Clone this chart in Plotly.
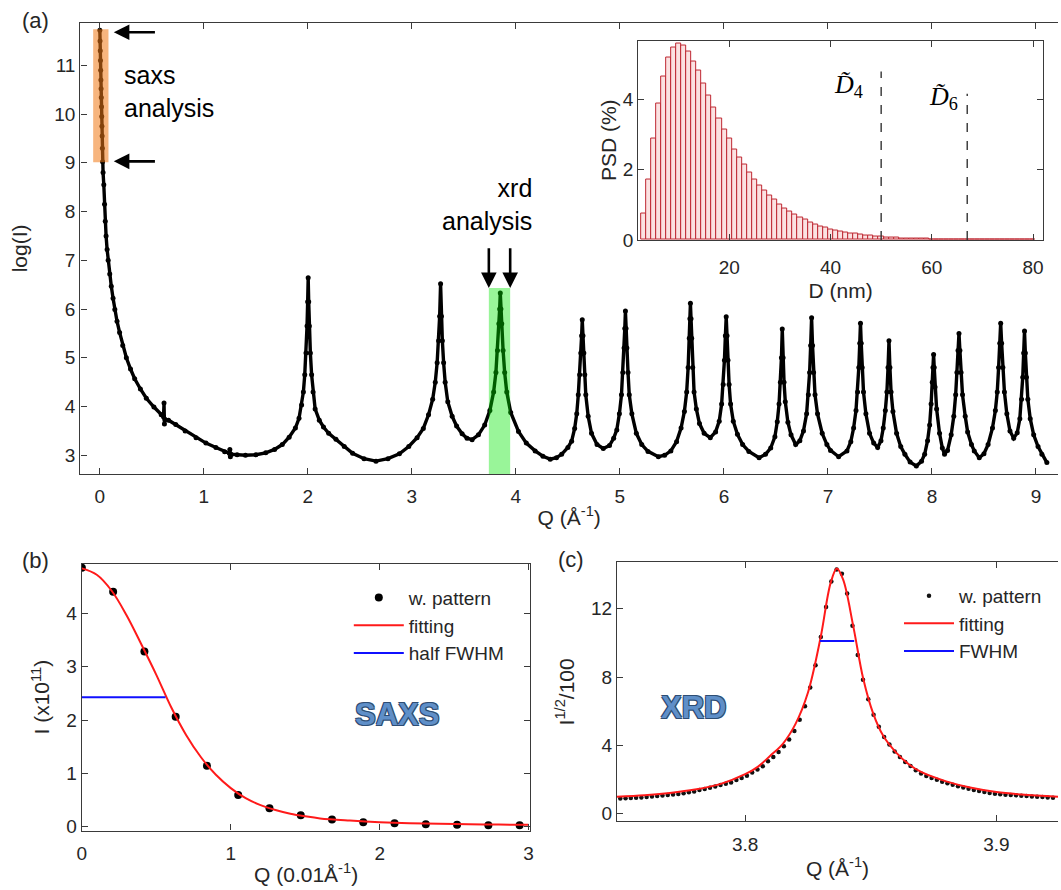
import plotly.graph_objects as go

FONT = "Liberation Sans, Arial, sans-serif"
TXT = "#262626"
AX = "#3a3a3a"

# ---------------- panel (a): full pattern, log(I) vs Q ----------------
q_a = [0.000, 0.002, 0.004, 0.006, 0.008, 0.010, 0.012, 0.014, 0.016, 0.018, 0.020, 0.022, 0.024, 0.026,
       0.031, 0.038, 0.045, 0.052, 0.060, 0.070, 0.080, 0.095, 0.110, 0.127, 0.144, 0.165, 0.190, 0.220,
       0.255, 0.295, 0.335, 0.390, 0.447, 0.520, 0.590, 0.612, 0.617, 0.621, 0.626, 0.660, 0.730, 0.820,
       0.925, 1.020, 1.116, 1.200, 1.245, 1.250, 1.255, 1.262, 1.320, 1.400, 1.500, 1.595, 1.680, 1.754,
       1.820, 1.880, 1.915, 1.940, 1.957, 1.970, 1.982, 1.992, 1.998, 2.003, 2.008, 2.014, 2.024, 2.036,
       2.050, 2.070, 2.110, 2.150, 2.200, 2.270, 2.350, 2.430, 2.540, 2.655, 2.770, 2.880, 2.970, 3.050,
       3.110, 3.160, 3.200, 3.225, 3.243, 3.257, 3.267, 3.276, 3.284, 3.293, 3.305, 3.320, 3.345, 3.387,
       3.430, 3.483, 3.530, 3.579, 3.640, 3.700, 3.750, 3.786, 3.808, 3.823, 3.836, 3.844, 3.850, 3.856,
       3.864, 3.877, 3.892, 3.912, 3.950, 4.025, 4.100, 4.185, 4.260, 4.330, 4.390, 4.440, 4.500, 4.536,
       4.565, 4.585, 4.600, 4.613, 4.624, 4.632, 4.638, 4.645, 4.653, 4.662, 4.672, 4.695, 4.727, 4.780,
       4.840, 4.900, 4.940, 4.970, 4.995, 5.015, 5.028, 5.040, 5.047, 5.053, 5.059, 5.067, 5.078, 5.090,
       5.115, 5.158, 5.210, 5.270, 5.370, 5.430, 5.490, 5.545, 5.588, 5.620, 5.642, 5.656, 5.667, 5.673,
       5.678, 5.684, 5.690, 5.700, 5.713, 5.735, 5.765, 5.810, 5.869, 5.920, 5.955, 5.978, 5.993, 6.005,
       6.014, 6.022, 6.030, 6.039, 6.050, 6.064, 6.090, 6.130, 6.180, 6.240, 6.338, 6.400, 6.450, 6.490,
       6.513, 6.530, 6.543, 6.553, 6.561, 6.569, 6.578, 6.590, 6.615, 6.645, 6.690, 6.730, 6.765, 6.795,
       6.812, 6.824, 6.834, 6.843, 6.852, 6.862, 6.876, 6.900, 6.945, 6.990, 7.025, 7.103, 7.183, 7.220,
       7.247, 7.270, 7.285, 7.297, 7.306, 7.313, 7.320, 7.329, 7.342, 7.365, 7.400, 7.440, 7.478, 7.510,
       7.532, 7.552, 7.567, 7.578, 7.587, 7.596, 7.607, 7.625, 7.660, 7.700, 7.740, 7.790, 7.850, 7.900,
       7.930, 7.958, 7.978, 7.992, 8.003, 8.010, 8.016, 8.022, 8.030, 8.045, 8.073, 8.100, 8.121, 8.150,
       8.185, 8.210, 8.228, 8.240, 8.251, 8.260, 8.269, 8.280, 8.294, 8.320, 8.343, 8.380, 8.407, 8.455,
       8.500, 8.540, 8.582, 8.610, 8.628, 8.641, 8.652, 8.661, 8.670, 8.682, 8.697, 8.720, 8.750, 8.786,
       8.820, 8.845, 8.862, 8.873, 8.882, 8.890, 8.898, 8.908, 8.922, 8.945, 8.978, 9.020, 9.057, 9.105]
logi_a = [11.72, 11.50, 11.30, 11.10, 10.90, 10.70, 10.52, 10.34, 10.15, 9.95, 9.75, 9.55, 9.30, 9.02,
          8.80, 8.55, 8.15, 7.80, 7.50, 7.22, 7.00, 6.72, 6.47, 6.22, 5.99, 5.75, 5.52, 5.25,
          5.00, 4.77, 4.57, 4.36, 4.17, 3.99, 3.83, 3.79, 4.07, 3.64, 3.74, 3.72, 3.63, 3.50,
          3.36, 3.25, 3.16, 3.07, 3.04, 3.12, 2.97, 3.02, 3.01, 3.00, 3.01, 3.05, 3.12, 3.22,
          3.37, 3.56, 3.76, 4.03, 4.30, 4.65, 5.10, 5.65, 6.15, 6.64, 6.15, 5.65, 5.10, 4.65,
          4.30, 3.95, 3.72, 3.58, 3.45, 3.33, 3.18, 3.04, 2.93, 2.88, 2.93, 3.03, 3.18, 3.36,
          3.55, 3.83, 4.15, 4.50, 4.90, 5.35, 5.85, 6.52, 5.85, 5.35, 4.90, 4.50, 4.10, 3.80,
          3.60, 3.44, 3.35, 3.32, 3.42, 3.62, 3.92, 4.30, 4.70, 5.15, 5.70, 6.00, 6.33, 6.00,
          5.70, 5.15, 4.70, 4.30, 3.88, 3.49, 3.25, 3.09, 2.98, 2.92, 2.95, 3.02, 3.16, 3.29,
          3.55, 3.85, 4.24, 4.65, 5.10, 5.45, 5.78, 5.45, 5.10, 4.65, 4.24, 3.80, 3.45, 3.22,
          3.14, 3.20, 3.35, 3.52, 3.85, 4.24, 4.70, 5.20, 5.60, 5.96, 5.60, 5.20, 4.70, 4.24,
          3.85, 3.45, 3.22, 3.08, 2.97, 3.00, 3.09, 3.28, 3.56, 3.90, 4.30, 4.80, 5.40, 5.80,
          6.12, 5.80, 5.40, 4.80, 4.30, 3.95, 3.65, 3.45, 3.36, 3.48, 3.70, 4.05, 4.45, 4.95,
          5.45, 5.84, 5.45, 4.95, 4.45, 4.05, 3.70, 3.43, 3.22, 3.08, 2.95, 3.02, 3.15, 3.38,
          3.69, 4.05, 4.50, 5.00, 5.59, 5.00, 4.50, 4.10, 3.68, 3.42, 3.22, 3.30, 3.50, 3.85,
          4.24, 4.70, 5.25, 5.82, 5.25, 4.70, 4.24, 3.85, 3.45, 3.22, 3.10, 2.97, 3.09, 3.28,
          3.56, 3.92, 4.30, 4.80, 5.30, 5.71, 5.30, 4.80, 4.30, 3.85, 3.45, 3.25, 3.16, 3.30,
          3.56, 3.92, 4.30, 4.80, 5.35, 4.80, 4.30, 3.90, 3.45, 3.18, 3.02, 2.86, 2.78, 2.88,
          3.02, 3.30, 3.62, 4.05, 4.50, 4.80, 5.07, 4.80, 4.40, 3.95, 3.45, 3.15, 3.02, 3.10,
          3.42, 3.80, 4.24, 4.70, 5.15, 5.50, 5.15, 4.70, 4.24, 3.80, 3.48, 3.22, 3.09, 2.95,
          3.03, 3.22, 3.56, 3.92, 4.30, 4.80, 5.30, 5.71, 5.30, 4.80, 4.30, 3.85, 3.50, 3.35,
          3.46, 3.75, 4.15, 4.60, 5.10, 5.55, 5.10, 4.60, 4.15, 3.75, 3.42, 3.18, 3.02, 2.85]

saxs_band_q = [-0.064, 0.083]
saxs_band_logi = [9.01, 11.74]
xrd_band_q = [3.74, 3.945]
xrd_band_top = 6.43
saxs_arrow_y = [11.68, 9.03]
saxs_arrow_q = [0.544, 0.134]          # tail, head
xrd_arrow_q = [3.74, 3.945]
xrd_arrow_logi = [7.28, 6.43]          # tail, head

# ---------------- inset: particle size distribution ----------------
d_nm = list(range(3, 81))
psd = [0.74, 1.72, 2.88, 3.86, 4.64, 5.17, 5.45, 5.57, 5.52, 5.36, 5.06, 4.80, 4.43, 4.10, 3.75, 3.46,
       3.14, 2.87, 2.58, 2.34, 2.14, 1.90, 1.72, 1.55, 1.41, 1.25, 1.14, 1.02, 0.90, 0.81, 0.72, 0.64,
       0.58, 0.50, 0.45, 0.39, 0.34, 0.31, 0.27, 0.24, 0.21, 0.19, 0.17, 0.15, 0.13, 0.115, 0.10, 0.09,
       0.08, 0.07, 0.062, 0.055, 0.048, 0.042, 0.037, 0.033, 0.029, 0.025, 0.022, 0.019, 0.017, 0.015,
       0.013, 0.011, 0.010, 0.009, 0.008, 0.007, 0.006, 0.005, 0.0045, 0.004, 0.0035, 0.003, 0.0025,
       0.002, 0.002, 0.0015]
d4_pos, d4_top = 50, 4.78
d6_pos, d6_top = 67, 4.15

# ---------------- panel (b): SAXS ----------------
q_b = [0.00, 0.21, 0.42, 0.63, 0.84, 1.05, 1.26, 1.47, 1.68, 1.89, 2.10, 2.31, 2.52, 2.73, 2.94]
i_b = [4.86, 4.41, 3.29, 2.06, 1.14, 0.59, 0.34, 0.21, 0.13, 0.08, 0.06, 0.04, 0.03, 0.02, 0.02]
q_b_fit = [0.0, 0.1, 0.2, 0.3, 0.4, 0.5, 0.6, 0.7, 0.8, 0.9, 1.0, 1.1, 1.2, 1.3, 1.4, 1.5, 1.6,
           1.8, 2.0, 2.2, 2.4, 2.6, 2.8, 3.0]
i_b_fit = [4.85, 4.73, 4.43, 3.97, 3.42, 2.85, 2.24, 1.72, 1.30, 0.97, 0.72, 0.53, 0.40, 0.31,
           0.24, 0.19, 0.15, 0.11, 0.08, 0.06, 0.05, 0.04, 0.035, 0.03]
q_b_half = [0.0, 0.562]
i_b_half = [2.43, 2.43]

# ---------------- panel (c): XRD ----------------
q_c = [3.7503, 3.7524, 3.7545, 3.7566, 3.7587, 3.7608, 3.7629, 3.7650, 3.7671, 3.7692, 3.7713, 3.7734,
       3.7755, 3.7776, 3.7797, 3.7818, 3.7839, 3.7860, 3.7881, 3.7902, 3.7923, 3.7944, 3.7965, 3.7986,
       3.8007, 3.8028, 3.8049, 3.8070, 3.8091, 3.8112, 3.8133, 3.8154, 3.8175, 3.8196, 3.8217, 3.8238,
       3.8259, 3.8280, 3.8301, 3.8322, 3.8343, 3.8364, 3.8385, 3.8406, 3.8427, 3.8448, 3.8469, 3.8490,
       3.8511, 3.8532, 3.8553, 3.8574, 3.8595, 3.8616, 3.8637, 3.8658, 3.8679, 3.8700, 3.8721, 3.8742,
       3.8763, 3.8784, 3.8805, 3.8826, 3.8847, 3.8868, 3.8889, 3.8910, 3.8931, 3.8952, 3.8973, 3.8994,
       3.9015, 3.9036, 3.9057, 3.9078, 3.9099, 3.9120, 3.9141, 3.9162, 3.9183, 3.9204, 3.9225]
v_c = [0.89, 0.91, 0.92, 0.94, 0.96, 0.98, 1.01, 1.04, 1.07, 1.10, 1.13, 1.16,
       1.21, 1.26, 1.31, 1.39, 1.46, 1.53, 1.60, 1.68, 1.76, 1.84, 1.98, 2.10,
       2.23, 2.42, 2.60, 2.78, 3.08, 3.33, 3.62, 3.95, 4.35, 4.85, 5.50, 6.30,
       7.40, 8.70, 10.35, 12.10, 13.60, 14.30, 14.05, 12.90, 11.00, 9.30, 7.85, 6.70,
       5.80, 5.10, 4.50, 4.05, 3.65, 3.32, 3.03, 2.80, 2.55, 2.36, 2.22, 2.10,
       1.99, 1.88, 1.79, 1.70, 1.62, 1.54, 1.47, 1.40, 1.34, 1.28, 1.22, 1.17,
       1.14, 1.12, 1.10, 1.08, 1.06, 1.04, 1.02, 1.00, 0.98, 0.96, 0.94]
q_c_fit = [3.749, 3.760, 3.770, 3.780, 3.790, 3.800, 3.805, 3.810, 3.815, 3.820, 3.825, 3.830,
           3.834, 3.8365, 3.839, 3.843, 3.847, 3.851, 3.855, 3.860, 3.865, 3.870, 3.880, 3.890,
           3.900, 3.910, 3.9245]
v_c_fit = [1.00, 1.08, 1.22, 1.42, 1.74, 2.32, 2.75, 3.40, 4.10, 5.25, 7.10, 10.30,
           13.50, 14.35, 13.70, 11.00, 7.90, 5.85, 4.55, 3.60, 2.92, 2.45, 1.90, 1.52,
           1.27, 1.13, 1.00]
q_c_fwhm = [3.8298, 3.8434]
v_c_fwhm = [10.12, 10.12]

fig = go.Figure()

# panel (a)
fig.add_trace(go.Scatter(x=q_a, y=logi_a, mode="lines+markers", xaxis="x", yaxis="y",
                         line=dict(color="black", width=3.4), marker=dict(color="black", size=5),
                         showlegend=False, hoverinfo="skip"))
# inset
fig.add_trace(go.Bar(x=d_nm, y=psd, width=1.0, xaxis="x2", yaxis="y2",
                     marker=dict(color="rgb(251,226,226)", line=dict(color="rgb(190,40,50)", width=1)),
                     showlegend=False, hoverinfo="skip"))
for pos, top in [(d4_pos, d4_top), (d6_pos, d6_top)]:
    fig.add_trace(go.Scatter(x=[pos, pos], y=[0, top], mode="lines", xaxis="x2", yaxis="y2",
                             line=dict(color="#333333", width=1.4, dash="dash"),
                             showlegend=False, hoverinfo="skip"))
# panel (b)
fig.add_trace(go.Scatter(x=q_b, y=i_b, mode="markers", name="w. pattern", xaxis="x3", yaxis="y3",
                         marker=dict(color="black", size=8), legend="legend"))
fig.add_trace(go.Scatter(x=q_b_fit, y=i_b_fit, mode="lines", name="fitting", xaxis="x3", yaxis="y3",
                         line=dict(color="#ff1a1a", width=2, shape="spline"), legend="legend"))
fig.add_trace(go.Scatter(x=q_b_half, y=i_b_half, mode="lines", name="half FWHM", xaxis="x3", yaxis="y3",
                         line=dict(color="#1010ff", width=2), legend="legend"))
# panel (c)
fig.add_trace(go.Scatter(x=q_c, y=v_c, mode="markers", name="w. pattern", xaxis="x4", yaxis="y4",
                         marker=dict(color="#111111", size=4.5), legend="legend2", cliponaxis=True))
fig.add_trace(go.Scatter(x=q_c_fit, y=v_c_fit, mode="lines", name="fitting", xaxis="x4", yaxis="y4",
                         line=dict(color="#ff1a1a", width=2, shape="spline"), legend="legend2"))
fig.add_trace(go.Scatter(x=q_c_fwhm, y=v_c_fwhm, mode="lines", name="FWHM", xaxis="x4", yaxis="y4",
                         line=dict(color="#1010ff", width=2), legend="legend2"))


def ax(domain, rng, tickvals, title, mirror="ticks", standoff=None, lstand=None, **kw):
    d = dict(domain=domain, range=rng, tickvals=tickvals, showline=True, linecolor=AX, linewidth=1.3,
             ticks="inside", ticklen=6, tickwidth=1.2, tickcolor=AX, mirror=mirror, showgrid=False,
             zeroline=False, tickfont=dict(family=FONT, size=19, color=TXT),
             title=dict(text=title, font=dict(family=FONT, size=21, color=TXT)))
    if standoff is not None:
        d["title"]["standoff"] = standoff
    if lstand is not None:
        d["ticklabelstandoff"] = lstand
    d.update(kw)
    return d


fig.update_layout(
    width=1061, height=890, margin=dict(l=0, r=0, t=0, b=0),
    paper_bgcolor="white", plot_bgcolor="white", font=dict(family=FONT, color=TXT),
    barmode="overlay", bargap=0,
    xaxis=ax([0.0716, 1.0], [-0.187, 9.212], [0, 1, 2, 3, 4, 5, 6, 7, 8, 9], "Q (Å<sup>-1</sup>)",
             anchor="y", standoff=4, lstand=5),
    yaxis=ax([0.4607, 0.9742], [2.615, 11.875], [3, 4, 5, 6, 7, 8, 9, 10, 11], "log(I)",
             anchor="x", mirror=False, standoff=20),
    xaxis2=ax([0.6013, 0.9859], [2.0, 82.0], [20, 40, 60, 80], "D (nm)", anchor="y2", standoff=6,
              lstand=10),
    yaxis2=ax([0.7270, 0.9539], [0, 5.66], [0, 2, 4], "PSD (%)", anchor="x2", standoff=0),
    xaxis3=ax([0.0730, 0.4989], [0, 3.012], [0, 1, 2, 3], "Q (0.01Å<sup>-1</sup>)", anchor="y3",
              standoff=4, lstand=5),
    yaxis3=ax([0.0551, 0.3588], [-0.078, 4.94], [0, 1, 2, 3, 4], "I (x10<sup>11</sup>)", anchor="x3",
              standoff=10),
    xaxis4=ax([0.5812, 1.0], [3.749, 3.9245], [3.8, 3.9], "Q (Å<sup>-1</sup>)", anchor="y4", standoff=6,
              lstand=6),
    yaxis4=ax([0.0655, 0.3603], [-0.445, 14.72], [0, 4, 8, 12], "I<sup>1/2</sup>/100", anchor="x4",
              mirror=False, standoff=10),
    legend=dict(x=0.3265, y=0.3416, xanchor="left", yanchor="top", bgcolor="rgba(0,0,0,0)",
                font=dict(family=FONT, size=19, color=TXT), itemwidth=50, tracegroupgap=0),
    legend2=dict(x=0.849, y=0.3438, xanchor="left", yanchor="top", bgcolor="rgba(0,0,0,0)",
                 font=dict(family=FONT, size=19, color=TXT), itemwidth=50, tracegroupgap=0),
)

# highlighted analysis windows
fig.add_shape(type="rect", xref="x", yref="y", x0=saxs_band_q[0], x1=saxs_band_q[1],
              y0=saxs_band_logi[0], y1=saxs_band_logi[1], fillcolor="rgb(240,120,20)", opacity=0.55,
              line=dict(width=0), layer="above")
fig.add_shape(type="rect", xref="x", yref="y", x0=xrd_band_q[0], x1=xrd_band_q[1],
              y0=2.615, y1=xrd_band_top, fillcolor="rgb(0,230,0)", opacity=0.4,
              line=dict(width=0), layer="above")

ann = []
for yv in saxs_arrow_y:
    ann.append(dict(xref="x", yref="y", axref="x", ayref="y", x=saxs_arrow_q[1], y=yv,
                    ax=saxs_arrow_q[0], ay=yv, text="", showarrow=True, arrowhead=2, arrowsize=1.2,
                    arrowwidth=2.6, arrowcolor="black"))
for xv in xrd_arrow_q:
    ann.append(dict(xref="x", yref="y", axref="x", ayref="y", x=xv, y=xrd_arrow_logi[1],
                    ax=xv, ay=xrd_arrow_logi[0], text="", showarrow=True, arrowhead=2, arrowsize=1.2,
                    arrowwidth=2.6, arrowcolor="black"))
ann.append(dict(xref="x", yref="y", x=0.21, y=10.47, text="saxs<br>analysis", showarrow=False,
                xanchor="left", yanchor="middle", align="left",
                font=dict(family=FONT, size=25, color="black")))
ann.append(dict(xref="x", yref="y", x=4.174, y=8.15, text="xrd<br>analysis", showarrow=False,
                xanchor="right", yanchor="middle", align="right",
                font=dict(family=FONT, size=25, color="black")))
ann.append(dict(xref="x2", yref="y2", x=46.9, y=4.37, text="<i>D\u0303</i><sub>4</sub>", showarrow=False,
                xanchor="right", yanchor="middle", font=dict(family="Liberation Serif, serif", size=26,
                                                               color="black")))
ann.append(dict(xref="x2", yref="y2", x=65.5, y=4.03, text="<i>D\u0303</i><sub>6</sub>", showarrow=False,
                xanchor="right", yanchor="middle", font=dict(family="Liberation Serif, serif", size=26,
                                                               color="black")))
outline = "1px 1px 0 #2e4d73, -1px -1px 0 #2e4d73, 1px -1px 0 #2e4d73, -1px 1px 0 #2e4d73"
ann.append(dict(xref="x3", yref="y3", x=2.117, y=2.10, text="SAXS", showarrow=False,
                font=dict(family=FONT, size=31, color="#5f8fc8", weight="bold", shadow=outline)))
ann.append(dict(xref="x4", yref="y4", x=3.7795, y=6.2, text="XRD", showarrow=False,
                font=dict(family=FONT, size=31, color="#5f8fc8", weight="bold", shadow=outline)))
for lab, px, py in [("(a)", 31, 21), ("(b)", 31, 568), ("(c)", 570, 567)]:
    ann.append(dict(xref="paper", yref="paper", x=px / 1061, y=1 - py / 890, text=lab, showarrow=False,
                    xanchor="center", yanchor="middle", font=dict(family=FONT, size=22, color=TXT)))
fig.update_layout(annotations=ann)

fig.write_html("out.html", config={"displayModeBar": False},
               post_script="document.body.style.margin='0px';")
